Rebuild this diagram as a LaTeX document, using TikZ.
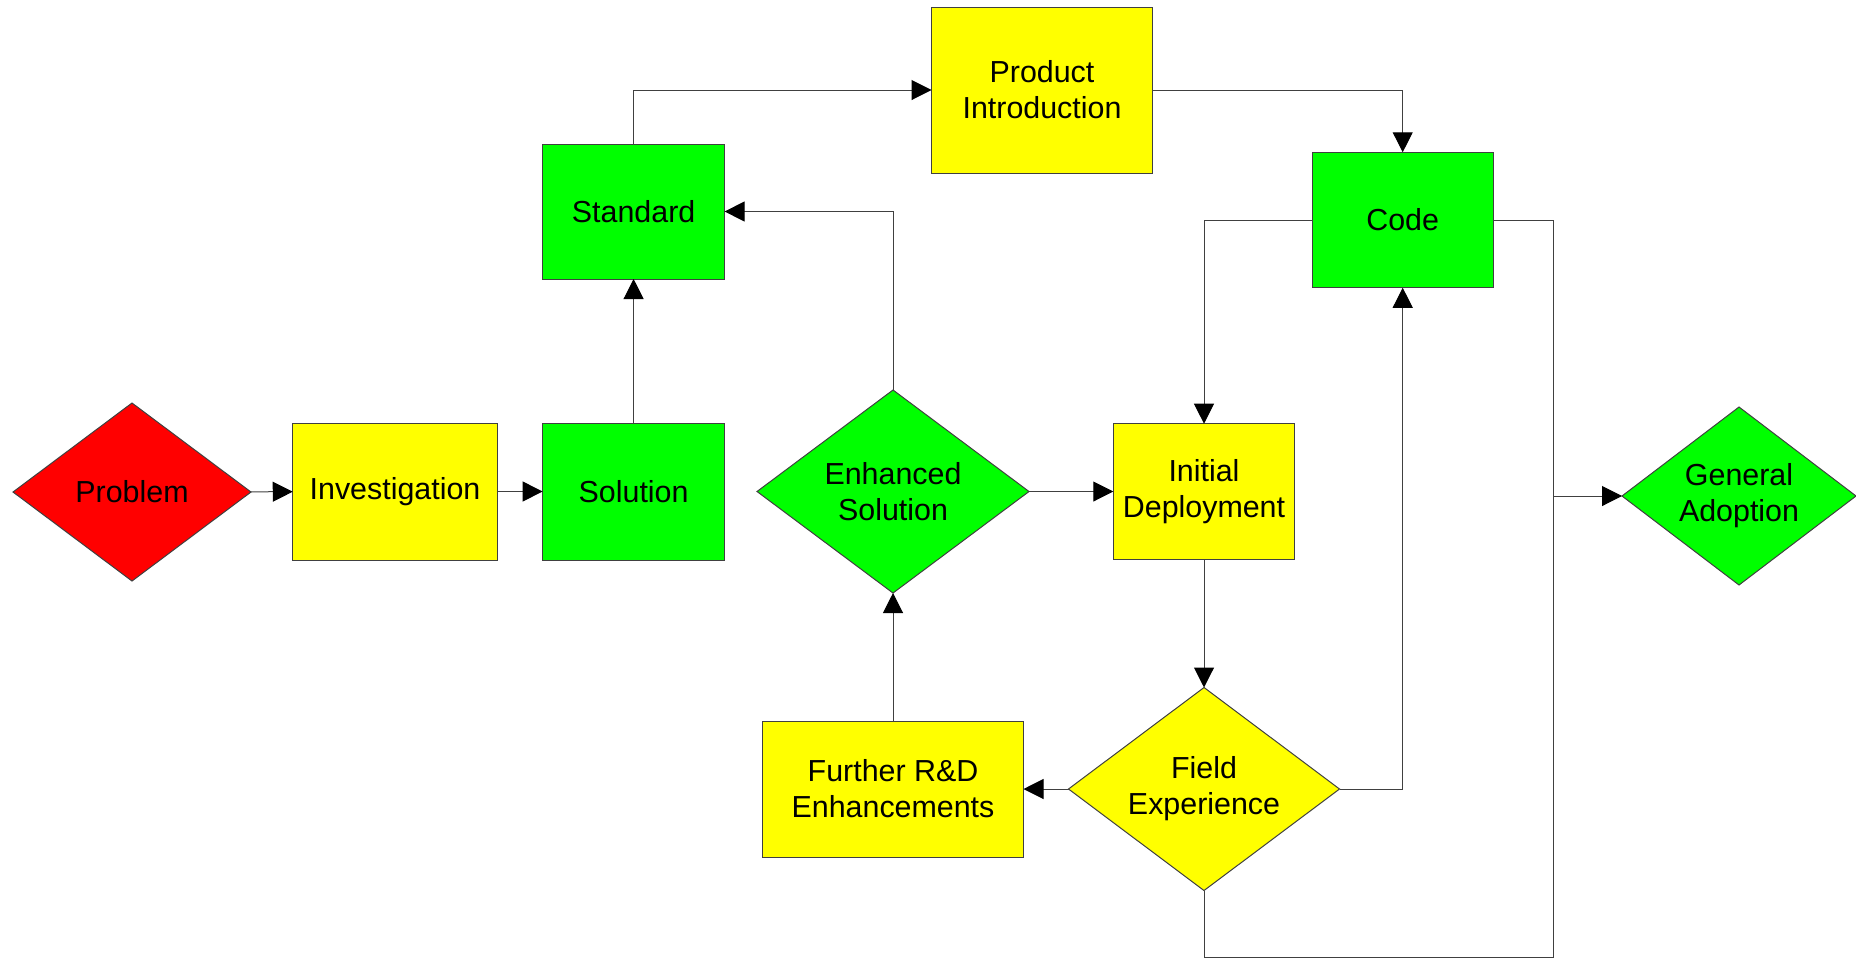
\documentclass[tikz,border=0pt]{standalone}
\usepackage{fontspec}
\setmainfont{Liberation Sans}
\usetikzlibrary{shapes.geometric,arrows.meta}
\definecolor{fred}{RGB}{255,0,0}
\definecolor{fyellow}{RGB}{255,255,0}
\definecolor{fgreen}{RGB}{0,255,0}
\definecolor{edge}{RGB}{64,64,64}
\tikzset{
  box/.style={draw=edge, line width=0.5pt, rectangle, inner sep=0pt, outer sep=0pt, align=center,
    font=\fontsize{15.2}{17.9}\selectfont},
  dia/.style={draw=edge, line width=0.5pt, diamond, inner sep=0pt, outer sep=0pt, align=center, aspect=1.33,
    font=\fontsize{15.2}{17.9}\selectfont},
  conn/.style={draw=edge, line width=0.5pt, -{Triangle[length=10pt,width=10pt,color=black]}},
  plain/.style={draw=edge, line width=0.5pt}
}
\begin{document}
\begin{tikzpicture}[x=0.5pt,y=-0.5pt]
\useasboundingbox (0,0) rectangle (1856,959);
% nodes
\node[dia, fill=fred, minimum width=119pt, minimum height=89pt] (prob) at (132,492) {Problem};
\node[box, fill=fyellow, minimum width=102.25pt, minimum height=68.5pt] (inv) at (395,491.5) {Investigation};
\node[box, fill=fgreen, minimum width=91pt, minimum height=68.5pt] (sol) at (633.6,491.5) {Solution};
\node[box, fill=fgreen, minimum width=91pt, minimum height=67.5pt] (std) at (633.6,211.5) {Standard};
\node[box, fill=fyellow, minimum width=110.5pt, minimum height=83pt] (prod) at (1042,90) {Product\\Introduction};
\node[box, fill=fgreen, minimum width=90.7pt, minimum height=67.75pt] (code) at (1402.7,220) {Code};
\node[dia, fill=fgreen, minimum width=136pt, minimum height=101.5pt] (enh) at (893,491.5) {Enhanced\\Solution};
\node[box, fill=fyellow, minimum width=90.75pt, minimum height=67.8pt] (init) at (1204,491.5) {Initial\\Deployment};
\node[dia, fill=fyellow, minimum width=135.5pt, minimum height=101.5pt] (field) at (1204,789) {Field\\Experience};
\node[box, fill=fyellow, minimum width=130.5pt, minimum height=68pt] (rd) at (893,789) {Further R\&D\\Enhancements};
\node[dia, fill=fgreen, minimum width=117pt, minimum height=89pt] (gen) at (1739,496) {General\\Adoption};
\coordinate (br) at (1553,957);
\coordinate (j) at (1553,496);
% connectors
\draw[conn] (prob) -- (inv);
\draw[conn] (inv) -- (sol);
\draw[conn] (sol) -- (std);
\draw[conn] (std.north) |- (prod.west);
\draw[conn] (prod.east) -| (code.north);
\draw[conn] (enh.north) |- (std.east);
\draw[conn] (enh.east) -- (init.west);
\draw[conn] (code.west) -| (init.north);
\draw[conn] (init.south) -- (field.north);
\draw[conn] (field.west) -- (rd.east);
\draw[conn] (rd.north) -- (enh.south);
\draw[conn] (field.east) -| (code.south);
\draw[plain] (code.east) -| (br) -| (field.south);
\draw[conn] (j) -- (gen.west);
\end{tikzpicture}
\end{document}
